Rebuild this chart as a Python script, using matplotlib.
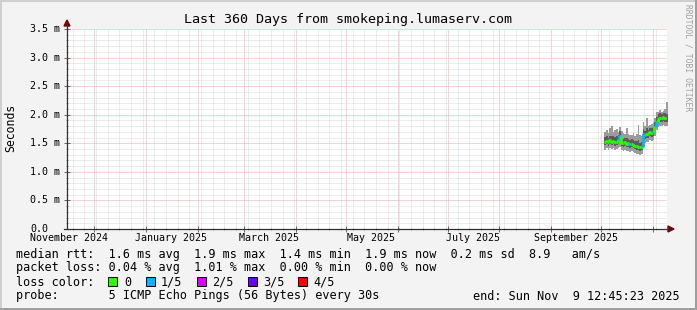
import datetime as dt
import matplotlib
matplotlib.use("Agg")
import matplotlib.pyplot as plt
import matplotlib.dates as mdates
import matplotlib.transforms as mtrans
from matplotlib.patches import Polygon, Rectangle
from matplotlib.lines import Line2D

W, H = 697, 310
MONO = "DejaVu Sans Mono"

# --- data: one value per day (ms), starting at first_day ---
first_day = dt.datetime(2025, 10, 3)
median = [1.53, 1.54, 1.52, 1.55, 1.53, 1.54, 1.52, 1.53, 1.55, 1.62,
          1.51, 1.50, 1.52, 1.49, 1.50, 1.48, 1.49, 1.47, 1.46, 1.45,
          1.44, 1.43, 1.44, 1.66, 1.64, 1.67, 1.66, 1.69, 1.68, 1.70,
          1.79, 1.88, 1.93, 1.95, 1.94, 1.96, 1.95, 1.94]
smoke_hi = [1.70, 1.74, 1.68, 1.76, 1.80, 1.70, 1.73, 1.75, 1.70, 1.78,
            1.72, 1.68, 1.66, 1.77, 1.67, 1.65, 1.64, 1.68, 1.62, 1.66,
            1.82, 1.64, 1.62, 1.87, 1.80, 1.94, 1.80, 1.82, 1.84, 1.86,
            1.95, 2.05, 2.05, 2.08, 2.04, 2.06, 2.10, 2.22]
smoke_lo = [1.39, 1.41, 1.39, 1.42, 1.40, 1.41, 1.39, 1.40, 1.41, 1.44,
            1.38, 1.37, 1.39, 1.36, 1.37, 1.35, 1.36, 1.34, 1.33, 1.32,
            1.31, 1.30, 1.31, 1.49, 1.51, 1.53, 1.52, 1.55, 1.54, 1.56,
            1.63, 1.73, 1.79, 1.81, 1.80, 1.82, 1.81, 1.80]
inner_hi = [1.61, 1.62, 1.60, 1.63, 1.63, 1.62, 1.61, 1.62, 1.64, 1.71,
            1.60, 1.58, 1.60, 1.59, 1.58, 1.56, 1.57, 1.56, 1.54, 1.54,
            1.55, 1.51, 1.52, 1.75, 1.72, 1.76, 1.74, 1.77, 1.76, 1.78,
            1.87, 1.96, 2.01, 2.03, 2.02, 2.03, 2.03, 2.02]
inner_lo = [1.47, 1.48, 1.46, 1.49, 1.47, 1.48, 1.46, 1.47, 1.49, 1.54,
            1.45, 1.44, 1.46, 1.43, 1.44, 1.42, 1.43, 1.41, 1.40, 1.39,
            1.38, 1.37, 1.38, 1.59, 1.58, 1.60, 1.59, 1.62, 1.61, 1.63,
            1.72, 1.81, 1.86, 1.88, 1.87, 1.89, 1.88, 1.87]
# lost pings out of 5
loss = [0, 0, 0, 0, 0, 0, 0, 0, 0, 1,
        0, 0, 0, 0, 0, 1, 0, 0, 0, 0,
        0, 0, 0, 1, 1, 0, 0, 0, 0, 1,
        0, 1, 0, 0, 0, 0, 0, 0]

loss_colors = ["#26ff00", "#00b8ff", "#dd00ff", "#6a00ff", "#ff0000"]
loss_labels = ["0", "1/5", "2/5", "3/5", "4/5"]

y_ticks = [0.0, 0.5, 1.0, 1.5, 2.0, 2.5, 3.0, 3.5]
month_labels = ["November 2024", "January 2025", "March 2025",
                "May 2025", "July 2025", "September 2025"]

end = dt.datetime(2025, 11, 9, 12, 45, 23)
start = end - dt.timedelta(days=360)


def fx(x):
    return x / W


def fy(y):
    return 1 - y / H


fig = plt.figure(figsize=(W / 100, H / 100), dpi=100, facecolor="#f3f3f3")
ax = fig.add_axes([fx(67), fy(229), 600 / W, 200 / H])
ax.set_facecolor("white")
ax.set_xlim(start, end)
ax.set_ylim(0, 3.5)
for s in ax.spines.values():
    s.set_visible(False)

# grid: weeks / months, 0.1 / 0.5 ms
months = []
y, m = 2024, 12
while dt.datetime(y, m, 1) < end:
    months.append(dt.datetime(y, m, 1))
    y, m = (y + 1, 1) if m == 12 else (y, m + 1)
weeks = []
d = dt.datetime(2024, 11, 18)
while d < end:
    weeks.append(d)
    d += dt.timedelta(days=7)

ax.set_xticks(mdates.date2num(months))
ax.set_xticks(mdates.date2num(weeks), minor=True)
ax.set_yticks(y_ticks)
ax.set_yticks([i / 10 for i in range(36)], minor=True)
ax.tick_params(which="both", labelleft=False, labelbottom=False,
               direction="inout", width=0.6)
ax.tick_params(which="major", length=4, color="#505050")
ax.tick_params(which="minor", length=2, color="#909090")
ax.grid(which="minor", color="#dadada", linestyle=(0, (1, 1)), linewidth=0.72)
ax.grid(which="major", color="#f4a8a8", linestyle=(0, (1, 1)), linewidth=0.72)
ax.set_axisbelow(True)

# smoke
edges = [first_day + dt.timedelta(days=i) for i in range(len(median) + 1)]
ax.fill_between(edges, smoke_lo + smoke_lo[-1:], smoke_hi + smoke_hi[-1:],
                step="post", color="#9c9c9c", linewidth=0)
ax.fill_between(edges, inner_lo + inner_lo[-1:], inner_hi + inner_hi[-1:],
                step="post", color="#5c5c5c", linewidth=0)

# median, coloured by loss
for i, v in enumerate(median):
    prev = median[i - 1] if i > 0 else v
    ax.plot([edges[i], edges[i], edges[i + 1]], [prev, v, v],
            color=loss_colors[loss[i]], linewidth=2.0, solid_capstyle="butt")

# tick labels
ymix = mtrans.blended_transform_factory(ax.transAxes, ax.transData)
for v in y_ticks:
    lab = "0.0" if v == 0 else f"{v:.1f} m"
    ax.text(-37 / 600, v, lab, transform=ymix, ha="left", va="center",
            fontsize=7.2, family=MONO, color="black")
xmix = mtrans.blended_transform_factory(ax.transData, ax.transAxes)
label_months = [dt.datetime(2024, 11, 1), dt.datetime(2025, 1, 1),
                dt.datetime(2025, 3, 1), dt.datetime(2025, 5, 1),
                dt.datetime(2025, 7, 1), dt.datetime(2025, 9, 1)]
for mstart, lab in zip(label_months, month_labels):
    ax.text(mstart + dt.timedelta(days=15), -9 / 200, lab, transform=xmix,
            ha="center", va="center", fontsize=7.2, family=MONO)

# axes with arrows
axis_col = "#303030"
fig.add_artist(Line2D([fx(67), fx(67)], [fy(229), fy(25)], color=axis_col,
                      linewidth=0.9, transform=fig.transFigure))
fig.add_artist(Line2D([fx(64), fx(670)], [fy(229), fy(229)], color=axis_col,
                      linewidth=0.9, transform=fig.transFigure))
fig.add_artist(Polygon([(fx(64), fy(26)), (fx(70), fy(26)), (fx(67), fy(20))],
                       closed=True, color="#7f0000", transform=fig.transFigure))
fig.add_artist(Polygon([(fx(668), fy(226)), (fx(668), fy(232)), (fx(674), fy(229))],
                       closed=True, color="#7f0000", transform=fig.transFigure))

# titles
fig.text(fx(348), fy(19), "Last 360 Days from smokeping.lumaserv.com",
         ha="center", va="center", fontsize=9.6, family=MONO)
fig.text(fx(11), fy(128), "Seconds", rotation=90, ha="center", va="center",
         fontsize=8.3, family=MONO)
fig.text(fx(688), fy(4), "RRDTOOL / TOBI OETIKER", rotation=270,
         ha="center", va="top", fontsize=5.8, family=MONO, color="#a0a0a0")

# legend
leg = dict(fontsize=8.5, family=MONO, va="center", ha="left")
fig.text(fx(16), fy(254.5),
         "median rtt:  1.6 ms avg  1.9 ms max  1.4 ms min  1.9 ms now  0.2 ms sd  8.9   am/s",
         **leg)
fig.text(fx(16), fy(268),
         "packet loss: 0.04 % avg  1.01 % max  0.00 % min  0.00 % now", **leg)
fig.text(fx(16), fy(282), "loss color:", **leg)
box_x = [108, 146, 197, 248, 298]
lab_x = [124, 161, 212, 263, 313]
for bx, lx, c, lab in zip(box_x, lab_x, loss_colors, loss_labels):
    fig.add_artist(Rectangle((fx(bx), fy(286)), 9 / W, 9 / H, facecolor=c,
                             edgecolor="black", linewidth=0.7,
                             transform=fig.transFigure))
    fig.text(fx(lx), fy(282), lab, **leg)
fig.text(fx(16), fy(296), "probe:       5 ICMP Echo Pings (56 Bytes) every 30s", **leg)
fig.text(fx(680), fy(296), "end: Sun Nov  9 12:45:23 2025",
         fontsize=8.5, family=MONO, va="center", ha="right")

# 3d frame
for (x0, y0, w, h, c) in [(0, 0, W, 2, "#cfcfcf"), (0, 0, 2, H, "#cfcfcf"),
                          (0, H - 2, W, 2, "#9e9e9e"), (W - 2, 0, 2, H, "#9e9e9e")]:
    fig.add_artist(Rectangle((fx(x0), fy(y0 + h)), w / W, h / H, facecolor=c,
                             edgecolor="none", transform=fig.transFigure))

fig.savefig("out.png", dpi=100, facecolor=fig.get_facecolor())
